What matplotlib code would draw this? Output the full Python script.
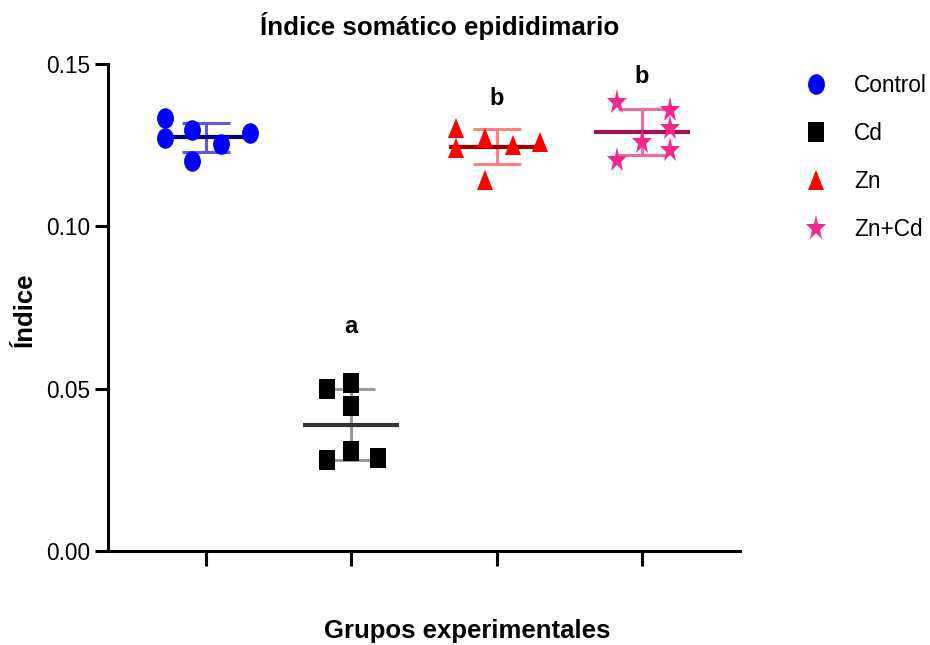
import numpy as np
import matplotlib
matplotlib.use("Agg")
import matplotlib.pyplot as plt
from matplotlib.markers import MarkerStyle
from matplotlib.transforms import Affine2D

# ---- data ----
groups = ["Control", "Cd", "Zn", "Zn+Cd"]
control = [0.1334, 0.1272, 0.1297, 0.1201, 0.1254, 0.1287]
cd = [0.0499, 0.0517, 0.0447, 0.0280, 0.0308, 0.0286]
zn = [0.1303, 0.1241, 0.1272, 0.1250, 0.1260, 0.1143]
zncd = [0.1383, 0.1358, 0.1303, 0.1260, 0.1235, 0.1204]
letters = ["", "a", "b", "b"]
yticks = [0.00, 0.05, 0.10, 0.15]

series = [control, cd, zn, zncd]
# horizontal scatter offsets (category units) for each point
offsets = [
    [-0.28, -0.28, -0.10, -0.10, 0.10, 0.30],
    [-0.17, 0.00, 0.00, -0.17, 0.00, 0.18],
    [-0.28, -0.28, -0.08, 0.11, 0.30, -0.08],
    [-0.17, 0.19, 0.19, 0.00, 0.19, -0.17],
]
letter_y = [None, 0.069, 0.1395, 0.146]

marker_kinds = ["o", "s", "^", "*"]
marker_sizes = [14.8, 14.8, 14.8, 19.0]
point_colors = ["#0000FF", "#000000", "#FF0000", "#F2288A"]
mean_colors = ["#000080", "#333333", "#9E0000", "#A0105A"]
err_colors = ["#5A5AE6", "#999999", "#FF8080", "#F06AA2"]

FONT = ["Liberation Sans", "DejaVu Sans"]
plt.rcParams["font.family"] = FONT

fig = plt.figure(figsize=(9.3, 6.45), dpi=100)
ax = fig.add_axes([108 / 930, 1 - 551 / 645, (740 - 108) / 930, (551 - 64) / 645])

def mstyle(kind):
    return MarkerStyle(kind, transform=Affine2D().scale(0.82, 1.0))

handles = []
for i, vals in enumerate(series):
    vals = np.asarray(vals)
    m = vals.mean()
    sd = vals.std(ddof=1)
    ax.plot([i - 0.33, i + 0.33], [m, m], color=mean_colors[i], lw=3.0,
            solid_capstyle="butt", zorder=2)
    ax.errorbar([i], [m], yerr=[sd], fmt="none", ecolor=err_colors[i],
                elinewidth=2.2, capsize=17, capthick=2.2, zorder=1.5)
    xs = i + np.asarray(offsets[i])
    ln, = ax.plot(xs, vals, linestyle="none", marker=mstyle(marker_kinds[i]),
                  markersize=marker_sizes[i], color=point_colors[i],
                  markeredgewidth=0, zorder=3, label=groups[i])
    handles.append(ln)
    if letters[i]:
        ax.text(i, letter_y[i], letters[i], ha="center", va="center",
                fontsize=17, fontweight="bold")

ax.set_xlim(-0.675, 3.675)
ax.set_ylim(0, 0.15)
ax.set_yticks(yticks)
ax.set_yticklabels([f"{v:.2f}" for v in yticks], fontsize=16.3)
ax.set_xticks(range(len(groups)))
ax.set_xticklabels([])
for s in ["top", "right"]:
    ax.spines[s].set_visible(False)
for s in ["left", "bottom"]:
    ax.spines[s].set_linewidth(2.2)
ax.tick_params(axis="y", length=9.5, width=2.2, pad=3)
ax.tick_params(axis="x", length=11, width=2.2)

fig.text(440 / 930, 1 - 26 / 645, "Índice somático epididimario", ha="center",
         va="center", fontsize=18.7, fontweight="bold")
fig.text(467 / 930, 1 - 631 / 645, "Grupos experimentales", ha="center",
         va="center", fontsize=18.5, fontweight="bold")
fig.text(25 / 930, 1 - 310 / 645, "Índice", ha="center", va="center",
         rotation=90, fontsize=18.5, fontweight="bold")

fig.legend(handles=handles, loc="upper left", bbox_to_anchor=(805 / 930, 1 - 74 / 645),
           frameon=False, fontsize=16.3, handlelength=1.0, handletextpad=1.18,
           labelspacing=1.1, borderpad=0, borderaxespad=0, numpoints=1)

fig.savefig("out.png", dpi=100)
